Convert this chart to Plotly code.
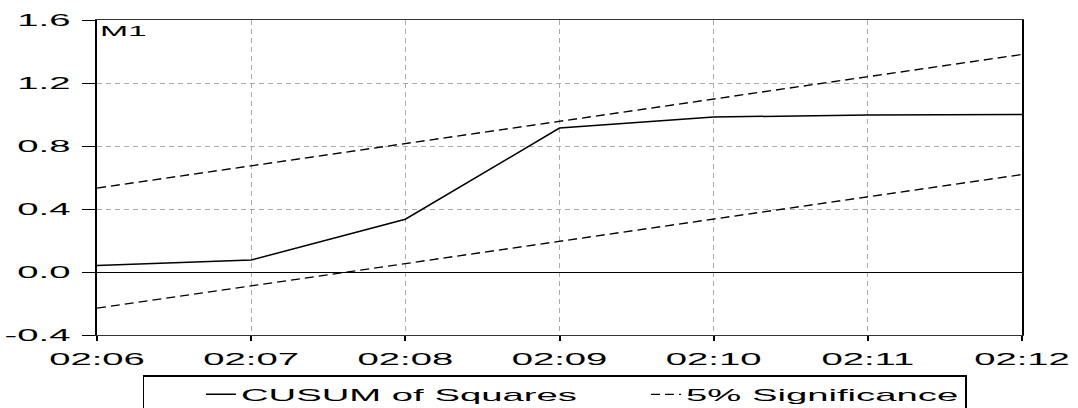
import plotly.graph_objects as go

# Minute stamps on the horizontal axis
times = ["02:06", "02:07", "02:08", "02:09", "02:10", "02:11", "02:12"]

# CUSUM of squares statistic and its 5% significance band
cusum_sq = [0.042, 0.076, 0.335, 0.914, 0.984, 0.997, 1.000]
band_upper = [0.533, 0.674, 0.816, 0.957, 1.098, 1.240, 1.381]
band_lower = [-0.229, -0.088, 0.053, 0.195, 0.336, 0.477, 0.619]

y_ticks = [-0.4, 0.0, 0.4, 0.8, 1.2, 1.6]
y_tick_labels = ["-0.4", "0.0", "0.4", "0.8", "1.2", "1.6"]

FONT = "Liberation Sans, Arial, sans-serif"
GRID = "#ababab"

fig = go.Figure()
fig.add_trace(go.Scatter(
    x=times, y=cusum_sq, mode="lines", name="CUSUM of Squares",
    line=dict(color="black", width=1.5), legendwidth=342,
))
fig.add_trace(go.Scatter(
    x=times, y=band_upper, mode="lines", name="5% Significance",
    line=dict(color="black", width=1.3, dash="9px,5px"), legendwidth=274,
    legendgroup="band",
))
fig.add_trace(go.Scatter(
    x=times, y=band_lower, mode="lines", name="5% Significance",
    line=dict(color="black", width=1.3, dash="9px,5px"),
    legendgroup="band", showlegend=False,
))

fig.update_layout(
    width=1078, height=408,
    margin=dict(l=97, r=56, t=20, b=73, autoexpand=False),
    paper_bgcolor="white", plot_bgcolor="white",
    font=dict(family=FONT, size=17, color="black"),
    showlegend=True,
    legend=dict(
        orientation="h", x=0.0497, xanchor="left", y=-0.128, yanchor="top",
        bordercolor="black", borderwidth=1.5, indentation=58,
        font=dict(family=FONT, size=17, color="black"),
        itemclick=False, itemdoubleclick=False, tracegroupgap=0,
    ),
    annotations=[dict(
        text="M1", xref="paper", yref="paper", x=0.029, y=1.0,
        xanchor="center", yanchor="top", showarrow=False,
        font=dict(family=FONT, size=15, color="black"),
    )],
)

fig.update_xaxes(
    type="category", range=[0, 6],
    tickvals=times, ticktext=times,
    showgrid=True, gridcolor=GRID, gridwidth=1, griddash="5px,4px",
    showline=True, linecolor="#333", linewidth=1.3, mirror=True,
    ticks="outside", ticklen=5, tickwidth=1.5, tickcolor="black",
    ticklabelstandoff=3, zeroline=False,
    tickfont=dict(family=FONT, size=17, color="black"),
)
fig.update_yaxes(
    range=[-0.4, 1.6], tickvals=y_ticks, ticktext=y_tick_labels,
    showgrid=True, gridcolor=GRID, gridwidth=1, griddash="5px,4px",
    showline=True, linecolor="black", linewidth=2.2, mirror=True,
    ticks="outside", ticklen=13, tickwidth=1.2, tickcolor="black",
    ticklabelstandoff=8,
    zeroline=True, zerolinecolor="black", zerolinewidth=1.3,
    tickfont=dict(family=FONT, size=17, color="black"),
)

# Widen the lettering horizontally so the labels run broad, as in EViews output
widen_text = """
var gd = document.getElementById('{plot_id}');
gd.querySelectorAll('.xtick text, .ytick text, .legendtext, .annotation-text').forEach(function (t) {
  if (t.hasAttribute('textLength')) return;
  var w = t.getComputedTextLength();
  if (w > 0) {
    t.setAttribute('textLength', (w * 2.25).toFixed(1));
    t.setAttribute('lengthAdjust', 'spacingAndGlyphs');
  }
});
"""

fig.write_html("out.html", post_script=widen_text, config={"displayModeBar": False})
